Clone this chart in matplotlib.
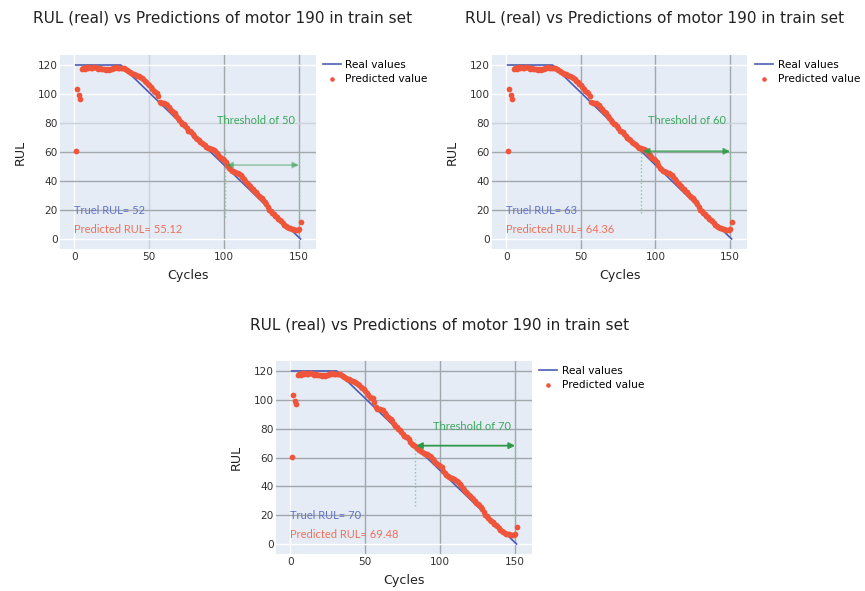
import matplotlib
matplotlib.use("Agg")
import matplotlib.pyplot as plt

plt.rcParams['font.family'] = ['DejaVu Sans']

# ---- data ----
real_x = [1, 31, 151]
real_y = [120, 120, 0]

cycles = list(range(1, 152))
pred = [
    60.5, 103.2, 99.0, 96.8, 117.3, 117.8, 117.5, 118.3, 117.9, 118.6,
    118.2, 117.8, 118.5, 118.7, 118.1, 117.4, 117.9, 117.2, 116.9, 117.3,
    116.8, 117.1, 116.7, 117.0, 117.4, 117.8, 118.2, 118.5, 117.9, 118.1,
    117.8, 117.6, 117.9, 117.3, 116.8, 115.9, 115.2, 114.6, 114.1, 113.9,
    113.2, 112.7, 112.4, 111.6, 110.9, 110.2, 109.1, 108.3, 107.2, 105.9,
    104.8, 103.6, 102.2, 101.5, 101.0, 98.3, 94.8, 93.9, 93.5, 93.8,
    93.2, 92.6, 90.8, 89.6, 88.4, 87.5, 86.6, 85.1, 83.4, 82.0,
    80.8, 79.6, 79.0, 77.8, 76.3, 74.8, 74.2, 73.9, 72.5, 70.8,
    69.7, 68.9, 68.2, 67.1, 66.0, 65.3, 64.6, 63.7, 62.9, 62.5,
    62.2, 61.8, 61.3, 60.4, 59.0, 57.6, 56.5, 55.6, 54.9, 54.2,
    53.3, 50.8, 49.0, 48.1, 47.2, 46.6, 46.1, 45.6, 45.2, 44.6,
    43.9, 42.9, 41.6, 40.2, 38.8, 37.6, 36.3, 35.4, 34.3, 33.2,
    32.1, 30.9, 29.9, 28.8, 28.1, 27.2, 25.8, 24.0, 22.1, 20.3,
    19.2, 18.1, 17.0, 16.0, 15.0, 14.1, 13.1, 12.2, 11.0, 9.9,
    9.0, 8.2, 7.6, 7.3, 7.0, 6.7, 6.5, 6.2, 6.4, 7.0,
    12.0,
]

thresholds = [50, 60, 70]
true_rul = [52, 63, 70]
pred_rul = [55.12, 64.36, 69.48]
# threshold markers: (left x, arrow y, left line span, right line span)
thr_left_x = [100.5, 90.5, 83.0]
thr_arrow_y = [51.0, 60.5, 68.2]
thr_left_span = [(15, 62), (17.6, 62.7), (26.4, 72.8)]
thr_right_span = [(12, 62), (6, 62.7), (12.6, 72.8)]
thr_right_x = 150

title = "RUL (real) vs Predictions of motor 190 in train set"

W, H = 865, 591
fig = plt.figure(figsize=(W / 100, H / 100), dpi=100)

# axes boxes in pixels (left, top, right, bottom)
boxes = [(60, 55, 316, 249), (492, 55, 747, 249), (276, 361, 532, 554)]
title_pos = [(223, 18), (655, 18), (440, 325)]
legend_pos = [(322.7, 59.6), (755, 59.6), (539, 366)]

G = '#a3a6aa'
L = '#cdd2d8'
Wc = 'white'
xgrid_cols = [[Wc, L, G, G], [Wc, G, G, G], [Wc, G, G, G]]
ygrid_cols = [[Wc, G, G, G, L, Wc, Wc], [Wc, G, G, G, L, Wc, Wc], [Wc, G, G, G, G, G, G]]
arrow_alpha = [0.4, 0.75, 1.0]

line_col = '#4a5cb3'
pt_col = '#ef553b'
txt_blue = '#6373c6'
txt_red = '#f0705a'
green = '#2e9a48'
vline_col = '#7ccf90'
ann_font = ['Lato', 'DejaVu Sans']

for i in range(3):
    l, t, r, b = boxes[i]
    ax = fig.add_axes([l / W, 1 - b / H, (r - l) / W, (b - t) / H])
    ax.set_facecolor('#E5ECF6')
    ax.plot(real_x, real_y, color=line_col, lw=1.2, label='Real values', zorder=3)
    ax.scatter(cycles, pred, s=17, color=pt_col, linewidths=0, label='Predicted value', zorder=4)
    ax.set_xlim(-9.5, 161.3)
    ax.set_ylim(-6.9, 126.9)
    ax.set_xticks([0, 50, 100, 150])
    ax.set_yticks([0, 20, 40, 60, 80, 100, 120])
    ax.grid(True, lw=1.0, zorder=0)
    ax.set_axisbelow(True)
    for gl, c in zip(ax.get_xgridlines(), xgrid_cols[i]):
        gl.set_color(c)
    for gl, c in zip(ax.get_ygridlines(), ygrid_cols[i]):
        gl.set_color(c)
    for s in ax.spines.values():
        s.set_visible(False)
    ax.tick_params(length=0, labelsize=7.6, labelcolor='#333333')
    ax.tick_params(axis='x', pad=2.5)
    ax.tick_params(axis='y', pad=1.5)
    ax.set_xlabel('Cycles', fontsize=9.1, color='#222222', labelpad=4.5)
    ax.set_ylabel('RUL', fontsize=9.1, color='#222222', labelpad=8)

    # threshold annotation
    lx = thr_left_x[i]
    ay = thr_arrow_y[i]
    ax.vlines(lx, *thr_left_span[i], colors=vline_col, linestyles=':', lw=1.0, zorder=2)
    ax.vlines(thr_right_x, *thr_right_span[i], colors=vline_col, linestyles=':', lw=1.0, zorder=2)
    ax.annotate('', xy=(thr_right_x, ay), xytext=(lx + 1, ay),
                arrowprops=dict(arrowstyle='<|-|>,head_length=0.35,head_width=0.18',
                                color=green, alpha=arrow_alpha[i], lw=1.3,
                                shrinkA=0, shrinkB=0), zorder=5)
    ax.text(121, 81.8, f'Threshold of {thresholds[i]}', color='#3aa85c', fontsize=8.0,
            family=ann_font, ha='center', va='center', zorder=6)
    ax.text(0, 19.5, f'Truel RUL= {true_rul[i]}', color=txt_blue, fontsize=8.0,
            family=ann_font, ha='left', va='center', zorder=6)
    ax.text(0, 6.7, f'Predicted RUL= {pred_rul[i]}', color=txt_red, fontsize=8.0,
            family=ann_font, ha='left', va='center', zorder=6)

    lxp, lyp = legend_pos[i]
    ax.legend(loc='upper left', bbox_to_anchor=(lxp / W, 1 - lyp / H),
              bbox_transform=fig.transFigure, frameon=False, fontsize=7.6,
              handlelength=1.7, handletextpad=0.45, labelspacing=0.4,
              borderaxespad=0, borderpad=0, markerscale=0.8, scatterpoints=1)

    tx, ty = title_pos[i]
    fig.text(tx / W, 1 - ty / H, title, ha='center', va='center', fontsize=11, color='#222222')

fig.savefig('out.png', dpi=100, facecolor='white')
